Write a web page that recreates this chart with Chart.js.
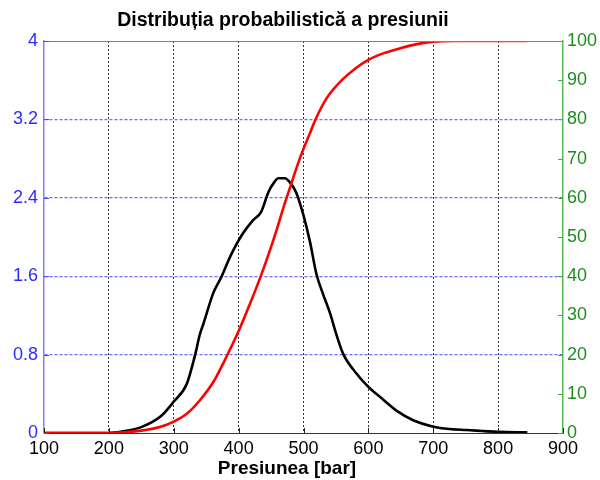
<!DOCTYPE html>
<html>
<head>
<meta charset="utf-8">
<script src="https://cdn.jsdelivr.net/npm/chart.js@4.4.0/dist/chart.umd.min.js"></script>
<style>
  body { margin: 0; background: #fff; }
  #c { display: block; }
</style>
</head>
<body>
<canvas id="c" width="600" height="480"></canvas>
<script>
// presiune [bar] -> densitate (axa stanga) si distributie cumulata % (axa dreapta)
var densX = [100, 150, 200, 220, 250, 280, 300, 320, 333, 340, 346, 361, 374, 387, 405, 422, 435, 446, 455, 461, 471, 480, 489, 500, 510, 520, 530, 541, 550, 561, 580, 600, 623, 645, 669, 700, 725, 751, 800, 845];
var densY = [0, 0, 0, 0.015, 0.06, 0.17, 0.32, 0.5, 0.8, 1.0, 1.12, 1.43, 1.6, 1.8, 2.02, 2.17, 2.26, 2.46, 2.56, 2.6, 2.6, 2.55, 2.45, 2.22, 1.95, 1.62, 1.42, 1.22, 1.02, 0.81, 0.62, 0.47, 0.34, 0.22, 0.13, 0.064, 0.04, 0.03, 0.012, 0.006];
var cdfX = [100, 200, 250, 280, 300, 320, 340, 361, 382, 400, 420, 433, 446, 458, 471, 480, 489, 500, 510, 518, 536, 559, 580, 600, 624, 650, 675, 700, 730, 845];
var cdfY = [0, 0, 0.6, 1.6, 2.9, 4.9, 8.3, 13, 19.7, 26, 34, 39.5, 45.5, 51.5, 58.5, 63, 67.5, 72.5, 76.5, 79.8, 85.5, 90, 93, 95.2, 96.9, 98.2, 99.2, 99.8, 100, 100];
var leftTicks = [0, 0.8, 1.6, 2.4, 3.2, 4];
var rightTicks = [0, 10, 20, 30, 40, 50, 60, 70, 80, 90, 100];
var xTicks = [100, 200, 300, 400, 500, 600, 700, 800, 900];

function pts(xs, ys) {
  return xs.map(function(x, i) { return {x: x, y: ys[i]}; });
}
function setTicks(arr) {
  return function(scale) { scale.ticks = arr.map(function(v) { return {value: v}; }); };
}

var extras = {
  id: 'extras',
  afterDraw: function(chart) {
    var ctx = chart.ctx, a = chart.chartArea;
    var sx = chart.scales.x, sy = chart.scales.y, sy1 = chart.scales.y1;
    ctx.save();
    // top frame line
    ctx.strokeStyle = '#808080';
    ctx.lineWidth = 1;
    ctx.beginPath();
    ctx.moveTo(a.left, a.top + 0.5);
    ctx.lineTo(a.right, a.top + 0.5);
    ctx.stroke();
    // inward ticks
    ctx.strokeStyle = '#44aa44';
    rightTicks.forEach(function(v) {
      var y = Math.round(sy1.getPixelForValue(v)) + 0.5;
      ctx.beginPath(); ctx.moveTo(a.right, y); ctx.lineTo(a.right - 5, y); ctx.stroke();
    });
    ctx.strokeStyle = '#4444ff';
    leftTicks.forEach(function(v) {
      var y = Math.round(sy.getPixelForValue(v)) + 0.5;
      ctx.beginPath(); ctx.moveTo(a.left, y); ctx.lineTo(a.left + 5, y); ctx.stroke();
    });
    ctx.strokeStyle = '#222';
    xTicks.forEach(function(v) {
      var x = Math.round(sx.getPixelForValue(v)) + 0.5;
      ctx.beginPath(); ctx.moveTo(x, a.bottom); ctx.lineTo(x, a.bottom - 5); ctx.stroke();
    });
    // title and x label
    ctx.fillStyle = '#000';
    ctx.textAlign = 'center';
    ctx.textBaseline = 'middle';
    ctx.font = 'bold 19.5px "Liberation Sans", Arial, sans-serif';
    ctx.fillText('Distribuția probabilistică a presiunii', 283, 21);
    ctx.font = 'bold 19px "Liberation Sans", Arial, sans-serif';
    ctx.fillText('Presiunea [bar]', 287, 469);
    ctx.restore();
  }
};

new Chart(document.getElementById('c'), {
  type: 'line',
  data: {
    datasets: [{
      data: pts(cdfX, cdfY),
      yAxisID: 'y1',
      borderColor: '#ff0000',
      borderWidth: 2.6,
      pointRadius: 0,
      cubicInterpolationMode: 'monotone',
      fill: false
    }, {
      data: pts(densX, densY),
      yAxisID: 'y',
      borderColor: '#000000',
      borderWidth: 2.6,
      pointRadius: 0,
      cubicInterpolationMode: 'monotone',
      fill: false
    }]
  },
  options: {
    responsive: false,
    animation: false,
    layout: {padding: {top: 41, left: 0, right: 0, bottom: 0}},
    plugins: {legend: {display: false}, title: {display: false}, tooltip: {enabled: false}},
    scales: {
      x: {
        type: 'linear', min: 100, max: 900,
        afterBuildTicks: setTicks(xTicks),
        afterFit: function(s) { s.height = 47; },
        grid: {
          color: function(c) { return (c.tick && (c.tick.value === 100 || c.tick.value === 900)) ? 'rgba(0,0,0,0)' : '#333'; },
          drawTicks: false, lineWidth: 1
        },
        border: {color: '#333', width: 1, dash: [2, 2]},
        ticks: {color: '#000', padding: 5, font: {family: '"Liberation Sans", Arial, sans-serif', size: 18}}
      },
      y: {
        type: 'linear', position: 'left', min: 0, max: 4,
        afterBuildTicks: setTicks(leftTicks),
        afterFit: function(s) { s.width = 44; },
        grid: {
          color: function(c) { return (c.tick && (c.tick.value === 0 || c.tick.value === 4)) ? 'rgba(0,0,0,0)' : '#6a6aff'; },
          drawTicks: false, lineWidth: 1.2
        },
        border: {color: '#8080ff', width: 1.5, dash: [3, 2]},
        ticks: {color: '#2b2bff', padding: 6, font: {family: '"Liberation Sans", Arial, sans-serif', size: 18},
          callback: function(v) { return String(v); }}
      },
      y1: {
        type: 'linear', position: 'right', min: 0, max: 100,
        afterBuildTicks: setTicks(rightTicks),
        afterFit: function(s) { s.width = 37; },
        grid: {drawOnChartArea: false, drawTicks: false},
        border: {color: '#55bb55', width: 1.5},
        ticks: {color: '#1e8c1e', padding: 4, font: {family: '"Liberation Sans", Arial, sans-serif', size: 18}}
      }
    }
  },
  plugins: [extras]
});
</script>
</body>
</html>
